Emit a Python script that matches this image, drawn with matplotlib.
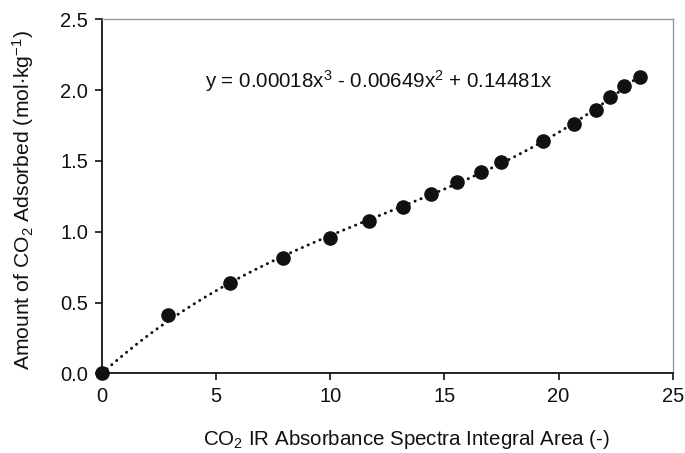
import numpy as np
import matplotlib
matplotlib.use("Agg")
import matplotlib.pyplot as plt

# --> Fonts: Helvetica-like look.
plt.rcParams['font.family'] = ['Liberation Sans', 'DejaVu Sans']
plt.rcParams['mathtext.fontset'] = 'custom'
plt.rcParams['mathtext.rm'] = 'Liberation Sans'
plt.rcParams['mathtext.it'] = 'Liberation Sans'
plt.rcParams['mathtext.default'] = 'regular'

# --> Data.
ir_area = [0.0, 2.89, 5.61, 7.91, 9.99, 11.70, 13.20, 14.40, 15.54, 16.60,
           17.48, 19.34, 20.66, 21.65, 22.27, 22.88, 23.58]
co2_adsorbed = [0.0, 0.414, 0.639, 0.812, 0.955, 1.075, 1.176, 1.268, 1.349,
                1.425, 1.493, 1.638, 1.761, 1.861, 1.953, 2.028, 2.096]
xticks = [0, 5, 10, 15, 20, 25]
yticks = [0.0, 0.5, 1.0, 1.5, 2.0, 2.5]
equation = "y = 0.00018x$^3$ - 0.00649x$^2$ + 0.14481x"

# --> Cubic trendline through the origin (least squares).
x = np.array(ir_area)
y = np.array(co2_adsorbed)
A = np.c_[x**3, x**2, x]
coef, *_ = np.linalg.lstsq(A, y, rcond=None)
xf = np.linspace(0, x.max(), 300)
yf = coef[0] * xf**3 + coef[1] * xf**2 + coef[2] * xf

fig = plt.figure(figsize=(6.85, 4.53), dpi=100)
ax = fig.add_axes([0.149, 0.176, 0.833, 0.781])

ax.plot(xf, yf, color='#111111', lw=2.1, linestyle=(0, (0.1, 2.1)),
        dash_capstyle='round', zorder=2)
ax.plot(x, y, 'o', color='#111111', ms=9.5, zorder=3, clip_on=False)

ax.set_xlim(0, 25)
ax.set_ylim(0, 2.5)
ax.set_xticks(xticks)
ax.set_yticks(yticks)
ax.set_yticklabels([f"{v:.1f}" for v in yticks])

for s in ['top', 'right']:
    ax.spines[s].set_color('#9a9a9a')
    ax.spines[s].set_linewidth(1.0)
for s in ['left', 'bottom']:
    ax.spines[s].set_color('#111111')
    ax.spines[s].set_linewidth(1.3)
ax.tick_params(direction='out', length=5, width=1.2, color='#111111',
               labelsize=14.5, pad=5, labelcolor='#111111')

ax.text(4.5, 2.065, equation, fontsize=14.8, ha='left', va='center',
        color='#111111')

ax.set_xlabel("CO$_2$ IR Absorbance Spectra Integral Area (-)", fontsize=14.8,
              color='#111111')
ax.xaxis.set_label_coords(0.533, -0.155)
ax.set_ylabel("Amount of CO$_2$ Adsorbed (mol$\\cdot$kg$^{-1}$)", fontsize=15.2,
              color='#111111')
ax.yaxis.set_label_coords(-0.115, 0.49)

fig.savefig("out.png", dpi=100)
